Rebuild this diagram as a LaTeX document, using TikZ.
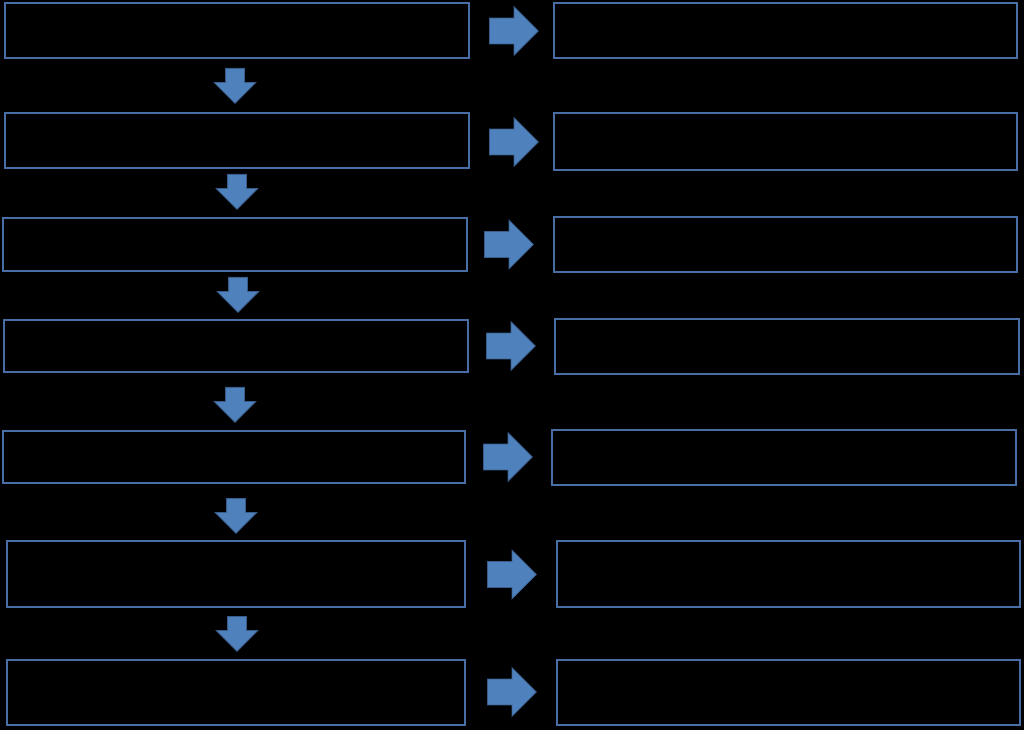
\documentclass[tikz,border=0pt]{standalone}
\usepackage{tikz}
\usetikzlibrary{shapes.arrows}
\usepackage{xcolor}
\definecolor{boxblue}{RGB}{72,110,165}
\definecolor{arrowfill}{RGB}{79,129,189}
\definecolor{arrowline}{RGB}{56,93,138}

\begin{document}
\begin{tikzpicture}[x=0.75pt,y=0.75pt,yscale=-1,xscale=1,
  box/.style={draw=boxblue, line width=1.5pt, rectangle, inner sep=0pt},
  rarrow/.style={single arrow, draw=arrowline, fill=arrowfill, line width=0.6pt, inner sep=9.4pt, single arrow head extend=8.6pt, single arrow head indent=0pt, minimum height=36.75pt, anchor=tail},
  darrow/.style={single arrow, shape border rotate=270, draw=arrowline, fill=arrowfill, line width=0.6pt, inner sep=6.75pt, single arrow head extend=8.6pt, single arrow head indent=0pt, minimum height=26.25pt, anchor=tail}]
%background, sets the page at 1024 x 730
\fill[black] (0,0) rectangle (1024,730) ;

%Left column boxes
\node [box, minimum width=348pt, minimum height=41.25pt] (l1) at (237,30.5) {};
\node [box, minimum width=348pt, minimum height=41.25pt] (l2) at (237,140.5) {};
\node [box, minimum width=348pt, minimum height=39.75pt] (l3) at (235,244.5) {};
\node [box, minimum width=348pt, minimum height=39pt] (l4) at (236,346) {};
\node [box, minimum width=346.5pt, minimum height=39pt] (l5) at (234,457) {};
\node [box, minimum width=343.5pt, minimum height=49.5pt] (l6) at (236,574) {};
\node [box, minimum width=343.5pt, minimum height=48.75pt] (l7) at (236,692.5) {};

%Right column boxes
\node [box, minimum width=347.25pt, minimum height=41.25pt] (r1) at (785.5,30.5) {};
\node [box, minimum width=347.25pt, minimum height=42.75pt] (r2) at (785.5,141.5) {};
\node [box, minimum width=347.25pt, minimum height=41.25pt] (r3) at (785.5,244.5) {};
\node [box, minimum width=348pt, minimum height=41.25pt] (r4) at (787,346.5) {};
\node [box, minimum width=348pt, minimum height=41.25pt] (r5) at (784,457.5) {};
\node [box, minimum width=347.25pt, minimum height=49.5pt] (r6) at (788.5,574) {};
\node [box, minimum width=347.25pt, minimum height=48.75pt] (r7) at (788.5,692.5) {};

%Block arrows, left to right
\node [rarrow] (a1) at (489,31) {};
\node [rarrow] (a2) at (489,142) {};
\node [rarrow] (a3) at (484,244.5) {};
\node [rarrow] (a4) at (486,346) {};
\node [rarrow] (a5) at (483,457) {};
\node [rarrow] (a6) at (487,574.5) {};
\node [rarrow] (a7) at (487,692) {};

%Block arrows, downwards
\node [darrow] (d1) at (235,68) {};
\node [darrow] (d2) at (237,174) {};
\node [darrow] (d3) at (238,277) {};
\node [darrow] (d4) at (235,387) {};
\node [darrow] (d5) at (236,498) {};
\node [darrow] (d6) at (237,616) {};

\end{tikzpicture}
\end{document}
